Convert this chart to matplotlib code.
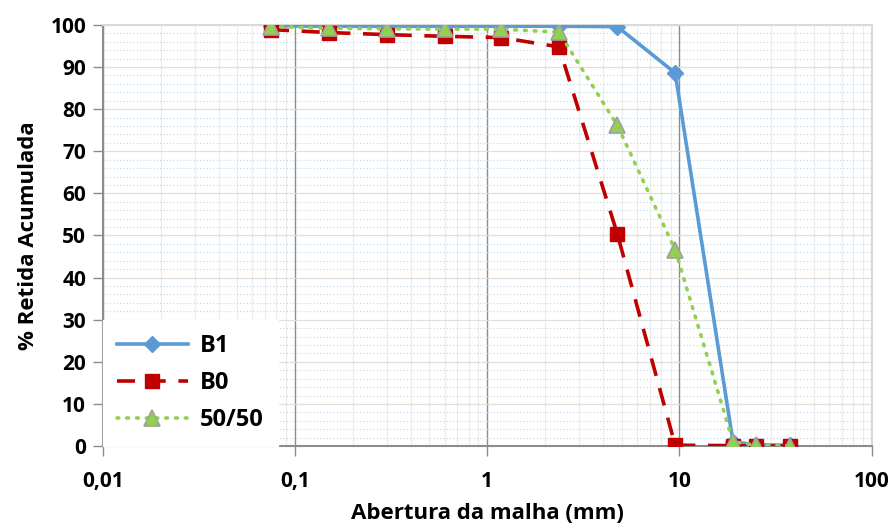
import matplotlib
matplotlib.use("Agg")
import matplotlib.pyplot as plt
from matplotlib.ticker import FixedLocator, NullFormatter, LogLocator

plt.rcParams["font.family"] = ["Open Sans", "DejaVu Sans"]
plt.rcParams["font.weight"] = "bold"

# sieve openings (mm) and cumulative retained (%)
sieves = [0.075, 0.15, 0.3, 0.6, 1.18, 2.36, 4.75, 9.5, 19, 25, 37.5]
b1     = [99.8, 99.7, 99.7, 99.7, 99.7, 99.7, 99.6, 88.6, 1.0, 0.3, 0.2]
b0     = [98.9, 98.2, 97.7, 97.3, 97.0, 94.8, 50.4, 0.2, 0.1, 0.0, 0.0]
mix    = [99.6, 99.2, 99.1, 99.0, 99.0, 98.3, 76.2, 46.6, 1.0, 0.2, 0.1]

xticks = [0.01, 0.1, 1, 10, 100]
xticklabels = ["0,01", "0,1", "1", "10", "100"]
yticks = list(range(0, 101, 10))

BLUE = "#5B9BD5"
RED = "#C00000"
GREEN = "#92D050"

fig = plt.figure(figsize=(8.94, 5.31), dpi=100)
ax = fig.add_axes([0.115, 0.160, 0.860, 0.793])

ax.set_xscale("log")
ax.set_xlim(0.01, 100)
ax.set_ylim(0, 100)

# grid: minor (light) first, then major
ax.xaxis.set_minor_locator(LogLocator(base=10, subs=range(2, 10)))
ax.xaxis.set_minor_formatter(NullFormatter())
ax.yaxis.set_minor_locator(FixedLocator([v for v in range(0, 101, 2) if v % 10]))
ax.grid(True, which="minor", axis="x", color="#ececec", lw=0.8)
ax.grid(True, which="minor", axis="y", color="#bcd6ee", lw=0.8, ls=(0, (1, 2)))
ax.grid(True, which="major", axis="y", color="#e0e0e0", lw=0.9)
ax.grid(True, which="major", axis="x", color="#8c8c8c", lw=1.0)
ax.set_axisbelow(True)

ax.plot(sieves, b1, "-", color=BLUE, lw=2.6, marker="D", markersize=8,
        markerfacecolor=BLUE, markeredgecolor=BLUE, label="B1", zorder=3)
ax.plot(sieves, b0, color=RED, lw=2.6, ls=(0, (5, 3.5)), marker="s", markersize=10,
        markerfacecolor=RED, markeredgecolor=RED, label="B0", zorder=4)
ax.plot(sieves, mix, color=GREEN, lw=2.6, ls=(0, (0.5, 2.2)), dash_capstyle="round",
        marker="^", markersize=11, markerfacecolor=GREEN, markeredgecolor="#a0a0a0",
        markeredgewidth=1.2, label="50/50", zorder=5)

ax.set_xticks(xticks)
ax.set_xticklabels(xticklabels, fontweight="bold")
ax.set_yticks(yticks)
ax.set_yticklabels([str(v) for v in yticks], fontweight="bold")
ax.tick_params(axis="both", which="major", labelsize=15, length=7, color="#8c8c8c",
               width=1, pad=5)
ax.tick_params(axis="x", which="major", pad=11)
ax.tick_params(axis="both", which="minor", length=0)

for side in ["left", "bottom"]:
    ax.spines[side].set_color("#8c8c8c")
    ax.spines[side].set_linewidth(1.5)
for side in ["top", "right"]:
    ax.spines[side].set_color("#d9d9d9")
    ax.spines[side].set_linewidth(1.5)

ax.set_xlabel("Abertura da malha (mm)", fontsize=16, fontweight="bold", labelpad=8)
ax.set_ylabel("% Retida Acumulada", fontsize=16, fontweight="bold", labelpad=8)

leg = ax.legend(loc="lower left", prop={"size": 17, "weight": "bold"}, frameon=True,
                fancybox=False, handlelength=3.0, borderaxespad=0, borderpad=0.6,
                labelspacing=0.55, handletextpad=0.5)
leg.get_frame().set_facecolor("white")
leg.get_frame().set_edgecolor("white")
leg.get_frame().set_alpha(1)
leg.set_zorder(10)

fig.savefig("out.png", dpi=100)
